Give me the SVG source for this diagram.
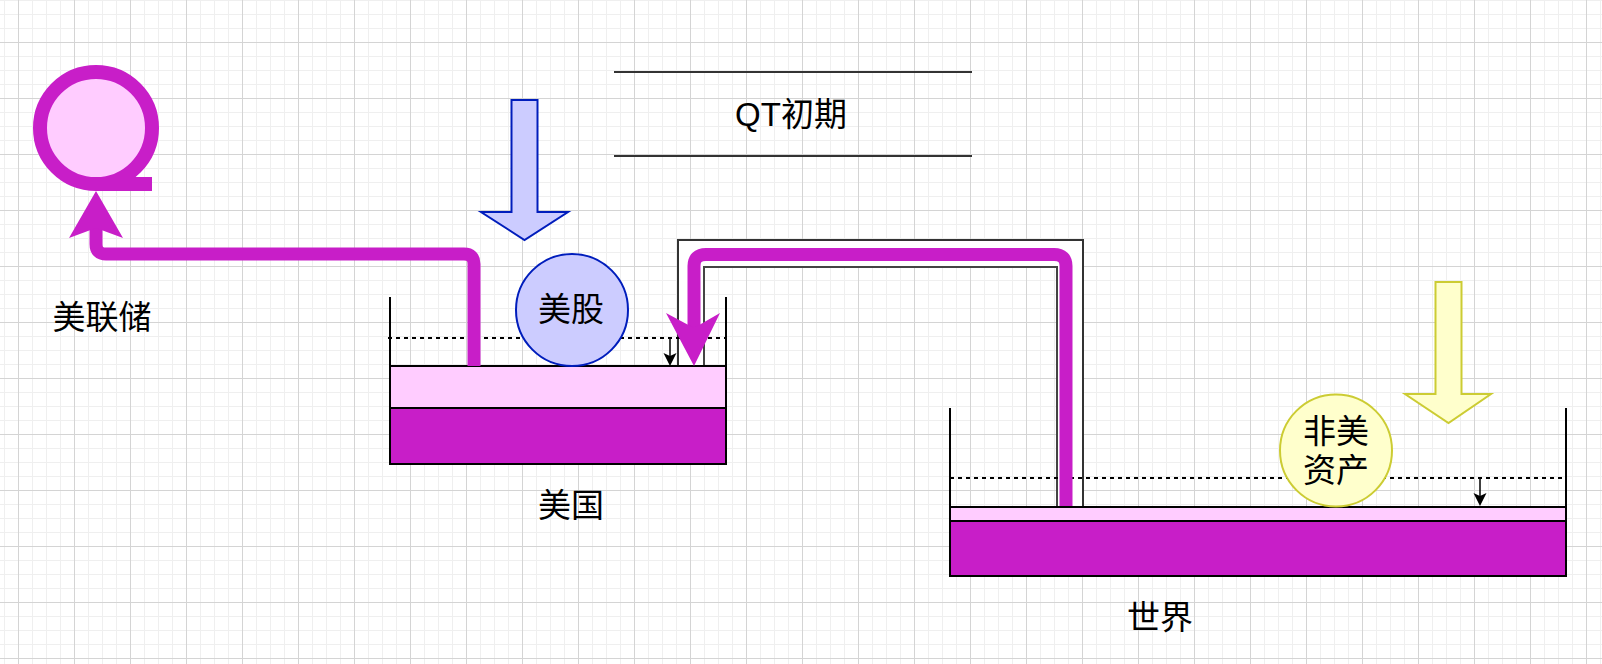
<svg xmlns="http://www.w3.org/2000/svg" width="1602" height="664" viewBox="0 0 1602 664">
<defs>
<pattern id="grid" x="18" y="42" width="56" height="56" patternUnits="userSpaceOnUse">
<rect x="14" y="0" width="1" height="56" fill="#efefef"/>
<rect x="28" y="0" width="1" height="56" fill="#efefef"/>
<rect x="42" y="0" width="1" height="56" fill="#efefef"/>
<rect x="0" y="14" width="56" height="1" fill="#efefef"/>
<rect x="0" y="28" width="56" height="1" fill="#efefef"/>
<rect x="0" y="42" width="56" height="1" fill="#efefef"/>
<rect x="0" y="0" width="1" height="56" fill="#d4d4d4"/>
<rect x="0" y="0" width="56" height="1" fill="#d4d4d4"/>
</pattern>
<style>
.lbl{font-family:"Liberation Sans","Noto Sans CJK SC",sans-serif;font-size:33px;fill:#000;text-anchor:middle;dominant-baseline:central}
.pipe{fill:none;stroke:#C81EC8;stroke-width:13;stroke-linejoin:round}
.mag{fill:#C81EC8}
.wall{fill:none;stroke:#000;stroke-width:2}
.layer-light{fill:#FFCCFF;stroke:#000;stroke-width:2}
.layer-dark{fill:#C81EC8;stroke:#000;stroke-width:2}
.dash{fill:none;stroke:#000;stroke-width:1.8;stroke-dasharray:4 4}
.thin{fill:none;stroke:#000;stroke-width:1.5}
.hline{fill:none;stroke:#333;stroke-width:2}
</style>
</defs>
<rect width="1602" height="664" fill="#fff"/>
<rect width="1602" height="664" fill="url(#grid)"/>

<g id="title">
<line class="hline" x1="614" y1="72" x2="972" y2="72"/>
<line class="hline" x1="614" y1="156" x2="972" y2="156"/>
<text class="lbl" x="791" y="114">QT初期</text>
</g>

<g id="fed">
<circle cx="96" cy="128" r="56" fill="#FFCCFF" stroke="#C81EC8" stroke-width="14"/>
<rect class="mag" x="96" y="177" width="56" height="14"/>
<text class="lbl" x="102" y="317">美联储</text>
</g>

<g id="us-stock-inflow">
<polygon points="511.5,100 537.5,100 537.5,212 568,212 524.5,240 481,212 511.5,212" fill="#CCCCFF" stroke="#001DBC" stroke-width="2"/>
</g>

<g id="world-inflow">
<polygon points="1435.5,282 1461.5,282 1461.5,394 1491,394 1448.5,423 1405,394 1435.5,394" fill="#FFFFCC" stroke="#CCCC33" stroke-width="2"/>
</g>

<g id="channel">
<path d="M678 366 V240 H1083 V506 H1057 V267 H704 V366 Z" fill="#fff" stroke="none"/>
<path d="M678 366 V240 H1083 V506" fill="none" stroke="#333" stroke-width="2"/>
<path d="M704 366 V267 H1057 V506" fill="none" stroke="#444" stroke-width="2"/>
</g>

<g id="us-tank">
<rect class="layer-light" x="390" y="366" width="336" height="42"/>
<rect class="layer-dark" x="390" y="408" width="336" height="56"/>
<path class="wall" d="M390 297 V464 M726 297 V464"/>
<text class="lbl" x="571" y="505">美国</text>
</g>

<g id="world-tank">
<rect class="layer-light" x="950" y="507" width="616" height="14"/>
<rect class="layer-dark" x="950" y="521" width="616" height="55"/>
<path class="wall" d="M950 408 V576 M1566 408 V576"/>
<text class="lbl" x="1160" y="617">世界</text>
</g>

<g id="connectors">
<line class="dash" x1="388" y1="338" x2="726" y2="338"/>
<line class="dash" x1="950" y1="478" x2="1566" y2="478"/>
<path class="pipe" d="M474 366 V264 Q474 254 464 254 H106 Q96 254 96 244 V226"/>
<polygon class="mag" points="96,191 123,238 96,228 69,238"/>
<path class="pipe" d="M1066 506 V266 Q1066 254.5 1054 254.5 H706 Q694 254.5 694 266 V330"/>
<polygon class="mag" points="694,366 720,313 694,328 666,313"/>
<line class="thin" x1="670" y1="338" x2="670" y2="358"/>
<polygon points="670,366 676.5,353 670,356 663.5,353" fill="#000"/>
<line class="thin" x1="1480" y1="478" x2="1480" y2="498"/>
<polygon points="1480,506 1486.5,493 1480,496 1473.5,493" fill="#000"/>
</g>

<g id="us-stock">
<circle cx="572" cy="310" r="56" fill="#CCCCFF" stroke="#001DBC" stroke-width="2"/>
<text class="lbl" x="571" y="309">美股</text>
</g>

<g id="non-us-assets">
<ellipse cx="1336" cy="450.5" rx="56" ry="56" fill="#FFFFCC" stroke="#CCCC33" stroke-width="2"/>
<text class="lbl" x="1336" y="431">非美</text>
<text class="lbl" x="1336" y="470">资产</text>
</g>
</svg>
